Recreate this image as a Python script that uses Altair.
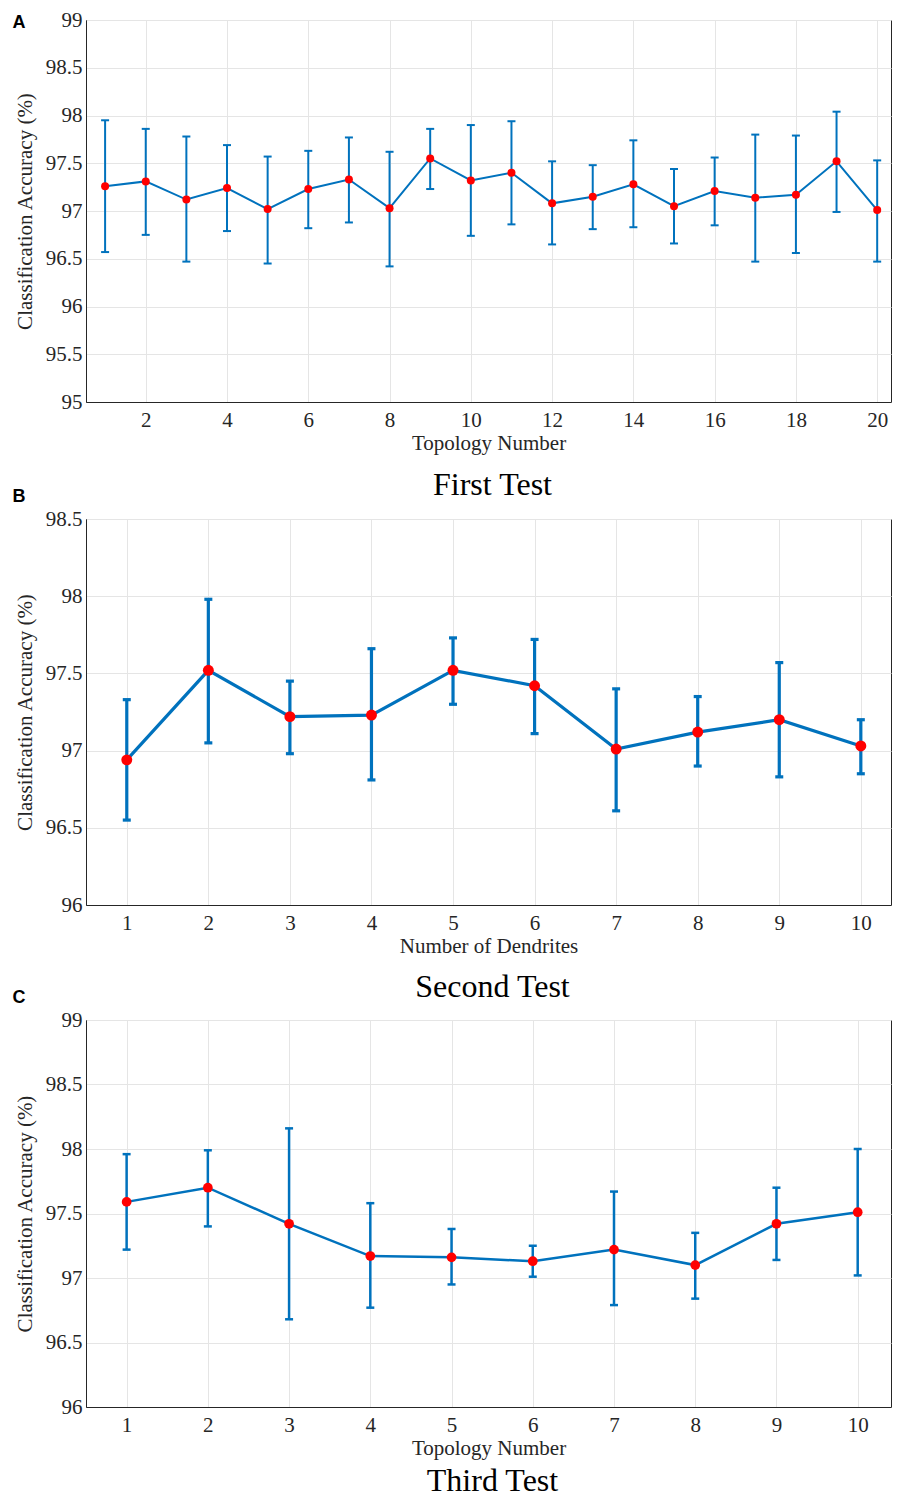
import altair as alt
import pandas as pd

# ---------------- data ----------------
a_topology = list(range(1, 21))
a_mean = [97.26, 97.31, 97.12, 97.24, 97.02, 97.23, 97.33, 97.03, 97.55, 97.32,
          97.40, 97.08, 97.15, 97.28, 97.05, 97.21, 97.14, 97.17, 97.52, 97.01]
a_low = [96.57, 96.75, 96.47, 96.79, 96.45, 96.82, 96.88, 96.42, 97.23, 96.74,
         96.86, 96.65, 96.81, 96.83, 96.66, 96.85, 96.47, 96.56, 96.99, 96.47]
a_high = [97.95, 97.86, 97.78, 97.69, 97.57, 97.63, 97.77, 97.62, 97.86, 97.90,
          97.94, 97.52, 97.48, 97.74, 97.44, 97.56, 97.80, 97.79, 98.04, 97.53]

b_dendrites = list(range(1, 11))
b_mean = [96.94, 97.52, 97.22, 97.23, 97.52, 97.42, 97.01, 97.12, 97.20, 97.03]
b_low = [96.55, 97.05, 96.98, 96.81, 97.30, 97.11, 96.61, 96.90, 96.83, 96.85]
b_high = [97.33, 97.98, 97.45, 97.66, 97.73, 97.72, 97.40, 97.35, 97.57, 97.20]

c_topology = list(range(1, 11))
c_mean = [97.59, 97.70, 97.42, 97.17, 97.16, 97.13, 97.22, 97.10, 97.42, 97.51]
c_low = [97.22, 97.40, 96.68, 96.77, 96.95, 97.01, 96.79, 96.84, 97.14, 97.02]
c_high = [97.96, 97.99, 98.16, 97.58, 97.38, 97.25, 97.67, 97.35, 97.70, 98.00]

a_xticks = [2, 4, 6, 8, 10, 12, 14, 16, 18, 20]
b_xticks = list(range(1, 11))
c_xticks = list(range(1, 11))
a_yticks = [95, 95.5, 96, 96.5, 97, 97.5, 98, 98.5, 99]
b_yticks = [96, 96.5, 97, 97.5, 98, 98.5]
c_yticks = [96, 96.5, 97, 97.5, 98, 98.5, 99]

panel_titles = ["First Test", "Second Test", "Third Test"]
panel_letters = ["A", "B", "C"]

# ---------------- style ----------------
BLUE = "#0072BD"
RED = "#FF0000"
SERIF = "Liberation Serif"
SANS = "Liberation Sans"
AXIS_COLOR = "#262626"
GRID_COLOR = "#e5e5e5"
AX_FS = 21
PLOT_W = 805


def label_layer(txt, x, y, font, size, weight, align):
    ldf = pd.DataFrame({"t": [txt]})
    return alt.Chart(ldf).mark_text(
        font=font, fontSize=size, fontWeight=weight, align=align,
        baseline="middle", color="black",
    ).encode(text="t:N", x=alt.value(x), y=alt.value(y))


def panel(x, mean, lo, hi, xdomain, xticks, ydomain, yticks, width, height,
          xtitle, title, title_y, line_w, pt_size, cap_w, letters):
    df = pd.DataFrame({"x": x, "mean": mean, "lo": lo, "hi": hi})
    base = alt.Chart(df)

    xaxis = alt.Axis(values=xticks, title=xtitle, format="d", ticks=False,
                     labelPadding=7, titlePadding=2,
                     labelFont=SERIF, titleFont=SERIF,
                     labelFontSize=AX_FS, titleFontSize=AX_FS)
    yaxis = alt.Axis(values=yticks, title="Classification Accuracy (%)",
                     format=".1~f", ticks=False, labelPadding=4, titlePadding=10,
                     labelFont=SERIF, titleFont=SERIF,
                     labelFontSize=AX_FS, titleFontSize=AX_FS)
    xs = alt.Scale(domain=xdomain, nice=False, zero=False)
    ys = alt.Scale(domain=ydomain, nice=False, zero=False)

    def X():
        return alt.X("x:Q", scale=xs, axis=xaxis)

    def Y(field):
        return alt.Y(f"{field}:Q", scale=ys, axis=yaxis)

    bars = base.mark_rule(color=BLUE, strokeWidth=line_w).encode(
        x=X(), y=Y("lo"), y2="hi:Q")
    cap_lo = base.mark_tick(color=BLUE, orient="horizontal", size=cap_w,
                            thickness=line_w, opacity=1).encode(x=X(), y=Y("lo"))
    cap_hi = base.mark_tick(color=BLUE, orient="horizontal", size=cap_w,
                            thickness=line_w, opacity=1).encode(x=X(), y=Y("hi"))
    line = base.mark_line(color=BLUE, strokeWidth=line_w).encode(x=X(), y=Y("mean"))
    pts = base.mark_circle(color=RED, size=pt_size, opacity=1).encode(x=X(), y=Y("mean"))

    layers = [line, bars, cap_lo, cap_hi, pts,
              label_layer(title, width / 2 + 4, title_y, SERIF, 32, "normal", "center")]
    for (txt, lx, ly) in letters:
        layers.append(label_layer(txt, lx, ly, SANS, 18, "bold", "center"))

    return alt.layer(*layers).properties(width=width, height=height)


pa = panel(a_topology, a_mean, a_low, a_high, [0.53, 20.34], a_xticks,
           [95, 99], a_yticks, PLOT_W, 382, "Topology Number", panel_titles[0], 465,
           2, 64, 8, [(panel_letters[0], -67, 3), (panel_letters[1], -67, 477)])
pb = panel(b_dendrites, b_mean, b_low, b_high, [0.5, 10.37], b_xticks,
           [96, 98.5], b_yticks, PLOT_W, 386, "Number of Dendrites", panel_titles[1], 468,
           3.2, 120, 8, [(panel_letters[2], -67, 479)])
pc = panel(c_topology, c_mean, c_low, c_high, [0.5, 10.41], c_xticks,
           [96, 99], c_yticks, PLOT_W, 387, "Topology Number", panel_titles[2], 461,
           2.5, 95, 8, [])

chart = alt.vconcat(pa, pb, pc, spacing=0).configure(
    padding={"left": 4, "top": 0, "right": 0, "bottom": 0},
    background="white",
).configure_view(
    stroke=AXIS_COLOR, strokeWidth=1
).configure_axis(
    labelFont=SERIF, titleFont=SERIF, labelFontSize=AX_FS, titleFontSize=AX_FS,
    labelColor="#262626", titleColor="#262626", titleFontWeight="normal",
    domainColor=AXIS_COLOR, domainWidth=1, gridColor=GRID_COLOR, gridWidth=1,
    grid=True,
)

chart.save("out.html", embed_options={"renderer": "svg", "actions": False})
